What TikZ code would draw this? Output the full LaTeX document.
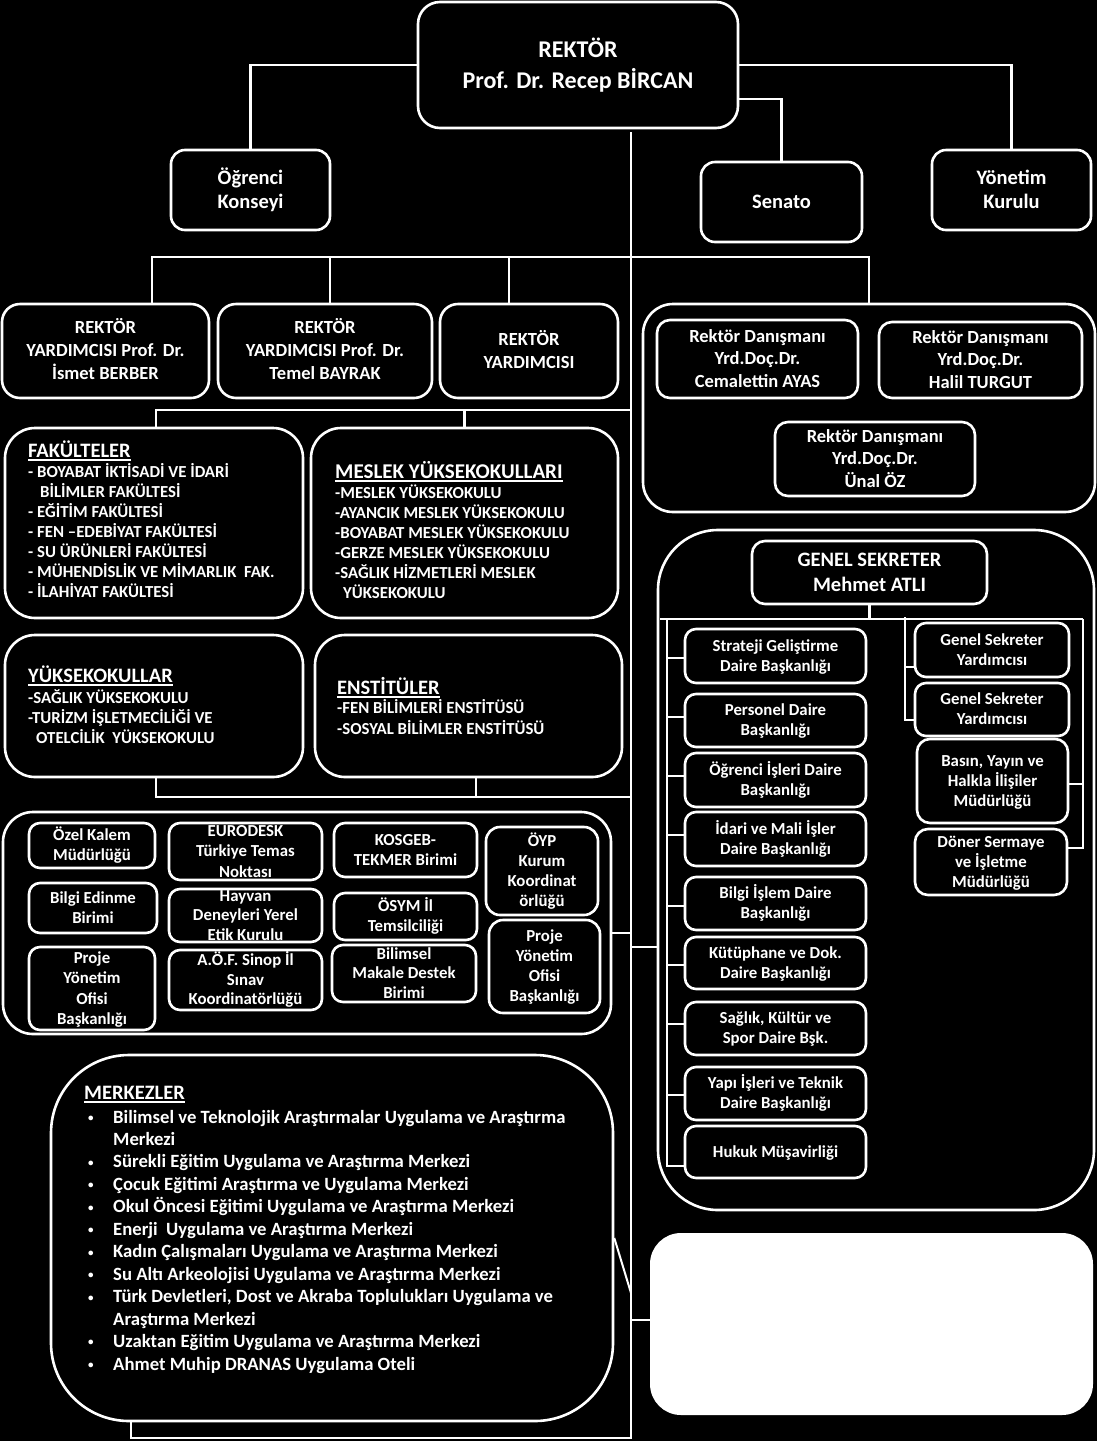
\documentclass[tikz,border=0pt]{standalone}
\usepackage{fontspec}
\setmainfont{Carlito}
\newcommand\hs{\rule[-.25em]{0pt}{1.14em}}
\newcommand\myul[1]{\setbox0\hbox{#1}\rlap{\rule[-3pt]{\wd0}{1.6pt}}\box0}
\newcommand\mb{\makebox[25pt][l]{\raisebox{1.6pt}{\fontsize{11pt}{11pt}\selectfont •}}}
\newcommand\BX[8]{%
  \node[bxs={#3}{#4}{#5}] (#1) at (#2) {};
  \node[ttx, fs={#6}{#7}] (#1t) at (#1.center) {\hs #8\hs};
}
\begin{document}
\begin{tikzpicture}[x=1pt,y=-1pt,
  bxs/.style n args={3}{draw=white, line width=2.6pt, fill=black, inner sep=0pt,
     minimum width=#1pt, minimum height=#2pt, rounded corners=#3pt},
  fs/.style 2 args={font=\bfseries\fontsize{#1pt}{#2pt}\selectfont},
  ttx/.style={text=white, inner sep=0pt, align=center},
  tx/.style={text=white, inner sep=0pt, align=left},
  cn/.style={draw=white, line width=2.6pt},
]
\fill[black] (0,0) rectangle (1097,1441);
\useasboundingbox (0,0) rectangle (1097,1441);

% group boxes
\node[bxs={452}{208}{30}] (dgrp) at (869,408) {};
\node[bxs={436}{680}{60}] (gsgrp) at (876,870) {};
\node[bxs={608}{222}{30}] (ugrp) at (307,923) {};
\node[bxs={562}{366}{78}] (merk) at (332,1238) {};
\node[draw=white, fill=white, line width=2pt, rounded corners=30pt, inner sep=0pt,
      minimum width=441pt, minimum height=180pt] (wbox) at (871.5,1324) {};
\node[bxs={298}{190}{30}] (fak) at (154,523) {};
\node[bxs={307}{190}{30}] (myo) at (464.5,523) {};
\node[bxs={298}{142}{30}] (yo) at (154,706) {};
\node[bxs={307}{142}{30}] (ens) at (468.5,706) {};

% top boxes
\BX{rektor}{578,65}{320}{126}{22}{24}{31}{REKTÖR\\Prof. Dr. Recep BİRCAN}
\BX{ogr}{250.5,190}{159}{80}{14}{20.5}{24}{Öğrenci\\Konseyi}
\BX{senato}{781.5,202}{161}{80}{14}{20.5}{24}{Senato}
\BX{yonetim}{1011.5,190}{159}{80}{14}{20.5}{24}{Yönetim\\Kurulu}

\BX{ry1}{105.5,351}{207}{94}{18}{18.5}{23}{REKTÖR\\YARDIMCISI Prof. Dr.\\İsmet BERBER}
\BX{ry2}{325,351}{214}{94}{18}{18.5}{23}{REKTÖR\\YARDIMCISI Prof. Dr.\\Temel BAYRAK}
\BX{ry3}{529,351}{178}{94}{18}{18.5}{23}{REKTÖR\\YARDIMCISI}

\BX{d1}{757.5,359}{201}{78}{13}{18.5}{22.5}{Rektör Danışmanı\\Yrd.Doç.Dr.\\Cemalettin AYAS}
\BX{d2}{980.5,360}{203}{76}{13}{18.5}{22.5}{Rektör Danışmanı\\Yrd.Doç.Dr.\\Halil TURGUT}
\BX{d3}{875,459}{200}{74}{13}{18.5}{22.5}{Rektör Danışmanı\\Yrd.Doç.Dr.\\Ünal ÖZ}

% connectors
\coordinate (mtop) at (631,132);
\coordinate (mbot) at (631,1438);
\coordinate (bus1) at (631,257);
\coordinate (bus2) at (631,410);
\coordinate (bus3) at (631,797);
\coordinate (dg) at (631,1293);
\draw[cn] (rektor.west) -| (ogr.north);
\draw[cn] (rektor.east) -| (yonetim.north);
\draw[cn] ([yshift=-34pt]rektor.east) -| (senato.north);
\draw[cn, line width=2.2pt] (mtop) -- (mbot) -| ([xshift=-201pt]merk.south);
\draw[cn] ([xshift=46.5pt]ry1.north) |- (bus1) -| (dgrp.north);
\draw[cn] ([xshift=5pt]ry2.north) -- ([xshift=5pt]ry2.north |- bus1);
\draw[cn] ([xshift=-20pt]ry3.north) -- ([xshift=-20pt]ry3.north |- bus1);
\draw[cn] ([xshift=2pt]fak.north) |- (bus2);
\draw[cn] (myo.north) -- (myo.north |- bus2);
\draw[cn] ([xshift=2pt]yo.south) |- (bus3);
\draw[cn] ([xshift=7.5pt]ens.south) -- ([xshift=7.5pt]ens.south |- bus3);
\draw[cn] ([yshift=-10pt]ugrp.east) -- ([yshift=-10pt]ugrp.east -| mtop);
\draw[cn] ([yshift=-77pt]gsgrp.west) -- ([yshift=-77pt]gsgrp.west -| mtop);
\draw[cn, line width=2pt] (merk.east) -- (dg);
\draw[cn] ([yshift=4pt]wbox.west) -- ([yshift=4pt]wbox.west -| mtop);

% list texts
\node[tx, fs={20.5}{24}, anchor=base west] (fakT) at (28,457.6) {\myul{FAKÜLTELER}};
\node[tx, fs={16.8}{20}, anchor=north west] (fakL) at (28,462.5) {\hs - BOYABAT İKTİSADİ VE İDARİ\\\hspace*{12pt}BİLİMLER FAKÜLTESİ\\- EĞİTİM FAKÜLTESİ\\- FEN –EDEBİYAT FAKÜLTESİ\\- SU ÜRÜNLERİ FAKÜLTESİ\\- MÜHENDİSLİK VE MİMARLIK\ \ FAK.\\- İLAHİYAT FAKÜLTESİ};
\node[tx, fs={21}{24}, anchor=base west] (myoT) at (335,478.8) {\myul{MESLEK YÜKSEKOKULLARI}};
\node[tx, fs={16.8}{20}, anchor=north west] (myoL) at (335,483.4) {\hs -MESLEK YÜKSEKOKULU\\-AYANCIK MESLEK YÜKSEKOKULU\\-BOYABAT MESLEK YÜKSEKOKULU\\-GERZE MESLEK YÜKSEKOKULU\\-SAĞLIK HİZMETLERİ MESLEK\\\hspace*{8pt}YÜKSEKOKULU};
\node[tx, fs={20.5}{24}, anchor=base west] (yoT) at (28,682.6) {\myul{YÜKSEKOKULLAR}};
\node[tx, fs={16.8}{20}, anchor=north west] (yoL) at (28,688.5) {\hs -SAĞLIK YÜKSEKOKULU\\-TURİZM İŞLETMECİLİĞİ VE\\\hspace*{8pt}OTELCİLİK\ \ YÜKSEKOKULU};
\node[tx, fs={20.5}{24}, anchor=base west] (ensT) at (337,694.6) {\myul{ENSTİTÜLER}};
\node[tx, fs={16.8}{20.5}, anchor=north west] (ensL) at (337,698.5) {\hs -FEN BİLİMLERİ ENSTİTÜSÜ\\-SOSYAL BİLİMLER ENSTİTÜSÜ};

% units
\BX{u1}{92,845.5}{126}{45}{11}{16.8}{20}{Özel Kalem\\Müdürlüğü}
\BX{u2}{93,908}{128}{50}{11}{16.8}{20}{Bilgi Edinme\\Birimi}
\BX{u3}{92,988.5}{126}{83}{11}{16.8}{20.3}{Proje\\Yönetim\\Ofisi\\Başkanlığı}
\BX{u4}{245.5,851.5}{153}{57}{11}{16.8}{20.5}{EURODESK\\Türkiye Temas\\Noktası}
\BX{u5}{245.5,915.5}{153}{53}{11}{16.8}{19.5}{Hayvan\\Deneyleri Yerel\\Etik Kurulu}
\BX{u6}{245.5,980}{153}{60}{11}{16.8}{19.5}{A.Ö.F. Sinop İl\\Sınav\\Koordinatörlüğü}
\BX{u7}{405.5,850}{143}{54}{11}{16.8}{20}{KOSGEB-\\TEKMER Birimi}
\BX{u8}{405.5,916.5}{143}{47}{11}{16.8}{20}{ÖSYM İl\\Temsilciliği}
\BX{u9}{404,973.5}{144}{57}{11}{16.8}{19.5}{Bilimsel\\Makale Destek\\Birimi}
\BX{u10}{542,871}{112}{88}{14}{16.8}{20}{ÖYP\\Kurum\\Koordinat\\örlüğü}
\BX{u11}{544.5,966.5}{111}{93}{14}{16.8}{20}{Proje\\Yönetim\\Ofisi\\Başkanlığı}

% genel sekreter group
\coordinate (gbL) at (660,619);
\coordinate (gbR) at (1083,619);
\coordinate (sp1) at (667,619);
\coordinate (sp2) at (905,617);
\BX{gs}{869.5,572.5}{235}{63}{13}{20.5}{25}{GENEL SEKRETER\\Mehmet ATLI}
\draw[cn] (gbL) -- (gbR);
\draw[cn] (gs.south) -- (gs.south |- gbL);
\BX{l1}{775.5,656}{181}{54}{11}{16.8}{20}{Strateji Geliştirme\\Daire Başkanlığı}
\BX{l2}{775.5,720.5}{181}{53}{11}{16.8}{20}{Personel Daire\\Başkanlığı}
\BX{l3}{775.5,780}{181}{54}{11}{16.8}{20}{Öğrenci İşleri Daire\\Başkanlığı}
\BX{l4}{775.5,839}{181}{54}{11}{16.8}{20}{İdari ve Mali İşler\\Daire Başkanlığı}
\BX{l5}{775.5,903.5}{181}{53}{11}{16.8}{20}{Bilgi İşlem Daire\\Başkanlığı}
\BX{l6}{775.5,963}{181}{52}{11}{16.8}{20}{Kütüphane ve Dok.\\Daire Başkanlığı}
\BX{l7}{775.5,1028.5}{181}{53}{11}{16.8}{20}{Sağlık, Kültür ve\\Spor Daire Bşk.}
\BX{l8}{775.5,1093.5}{181}{53}{11}{16.8}{20}{Yapı İşleri ve Teknik\\Daire Başkanlığı}
\BX{l9}{775.5,1152}{181}{52}{11}{16.8}{20}{Hukuk Müşavirliği}
\draw[cn] (sp1) |- ([yshift=-14pt]l9.west);
\foreach \n/\s in {l1/-2,l2/3.5,l3/4,l4/4,l5/-2.5,l6/-2,l7/4.5,l8/-1.5}
  \draw[cn] ([yshift=\s pt]\n.west) -- ([yshift=\s pt]\n.west -| sp1);
\BX{gy1}{992,650}{154}{54}{11}{16.8}{20}{Genel Sekreter\\Yardımcısı}
\BX{gy2}{992,709.5}{154}{53}{11}{16.8}{20}{Genel Sekreter\\Yardımcısı}
\BX{basin}{992.5,781}{151}{84}{13}{16.8}{20}{Basın, Yayın ve\\Halkla İlişiler\\Müdürlüğü}
\BX{doner}{991,862}{152}{66}{13}{16.8}{20}{Döner Sermaye\\ve İşletme\\Müdürlüğü}
\draw[cn] (sp2) |- ([yshift=-10.5pt]gy2.west);
\draw[cn] ([yshift=-17pt]gy1.west) -- ([yshift=-17pt]gy1.west -| sp2);
\draw[cn] (gbR) |- ([yshift=14pt]doner.east);
\draw[cn] ([yshift=-3pt]basin.east) -- ([yshift=-3pt]basin.east -| gbR);

% merkezler
\node[tx, fs={20.5}{24}, anchor=base west] (merkT) at (84,1099.6) {\myul{MERKEZLER}};
\node[tx, fs={18.7}{22.45}, anchor=north west] (merkL) at (88,1106.2) {\hs\mb Bilimsel ve Teknolojik Araştırmalar Uygulama ve Araştırma\\\hspace*{25pt}Merkezi\\\mb Sürekli Eğitim Uygulama ve Araştırma Merkezi\\\mb Çocuk Eğitimi Araştırma ve Uygulama Merkezi\\\mb Okul Öncesi Eğitimi Uygulama ve Araştırma Merkezi\\\mb Enerji\ \ Uygulama ve Araştırma Merkezi\\\mb Kadın Çalışmaları Uygulama ve Araştırma Merkezi\\\mb Su Altı Arkeolojisi Uygulama ve Araştırma Merkezi\\\mb Türk Devletleri, Dost ve Akraba Toplulukları Uygulama ve\\\hspace*{25pt}Araştırma Merkezi\\\mb Uzaktan Eğitim Uygulama ve Araştırma Merkezi\\\mb Ahmet Muhip DRANAS Uygulama Oteli};
\end{tikzpicture}
\end{document}
